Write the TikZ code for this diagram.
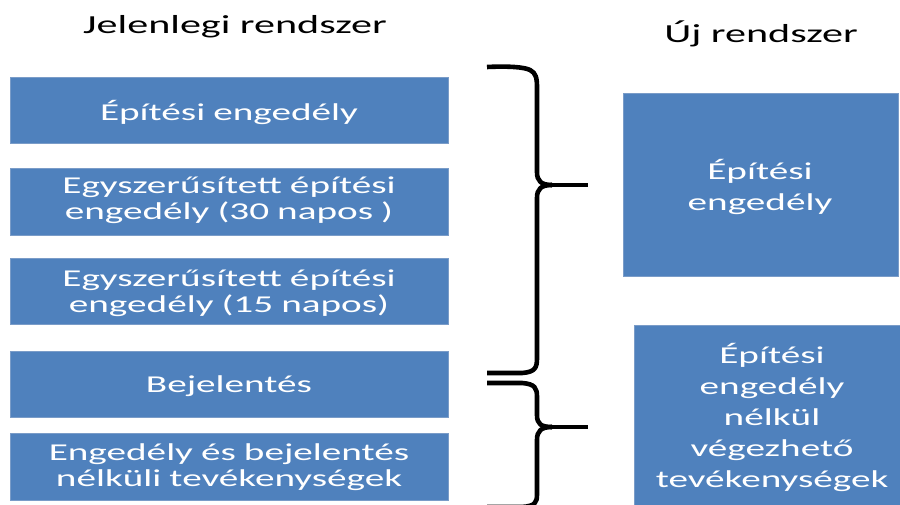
\documentclass[tikz,border=0pt]{standalone}
\usepackage{fontspec}
\setmainfont{Carlito}[FakeStretch=1.62]
\definecolor{boxblue}{HTML}{4F81BD}
\definecolor{boxedge}{HTML}{7A9CC8}
\begin{document}
\begin{tikzpicture}[x=1pt,y=-1pt,
  bluebox/.style={draw=boxedge,fill=boxblue,line width=0.8pt,anchor=north west,inner sep=0pt,outer sep=0pt},
  boxtext/.style={text=white,font=\fontsize{24.2}{26}\selectfont,align=center,anchor=base,inner sep=0pt,text width=#1},
  boxtext/.default=430pt,
  righttext/.style={text=white,font=\fontsize{24.2}{31}\selectfont,align=center,anchor=base,inner sep=0pt,text width=270pt},
  titletext/.style={text=black,font=\fontsize{26}{30}\selectfont,anchor=base,inner sep=0pt},
  brace/.style={draw=black,line width=4.6pt,line join=round,line cap=butt},
  bracetip/.style={draw=black,line width=3.4pt,line cap=butt}
]
\clip (0,0) rectangle (900,505);
\fill[white] (0,0) rectangle (900,505);

% titles
\node[titletext] (h1) at (235,34) {Jelenlegi rendszer};
\node[titletext] (h2) at (761,43) {Új rendszer};

% left boxes
\node[bluebox,minimum width=438pt,minimum height=66pt] (b1) at (10,77) {};
\node[bluebox,minimum width=438pt,minimum height=67pt] (b2) at (10,168) {};
\node[bluebox,minimum width=438pt,minimum height=66pt] (b3) at (10,258) {};
\node[bluebox,minimum width=438pt,minimum height=66pt] (b4) at (10,351) {};
\node[bluebox,minimum width=438pt,minimum height=67pt] (b5) at (10,433) {};

\node[boxtext] (t1) at (229,121) {Építési engedély};
\node[boxtext] (t2) at (229,194) {Egyszerűsített építési\\engedély (30 napos )};
\node[boxtext] (t3) at (229,287) {Egyszerűsített építési\\engedély (15 napos)};
\node[boxtext] (t4) at (229,392) {Bejelentés};
\node[boxtext] (t5) at (229,460) {Engedély és bejelentés\\nélküli tevékenységek};

% right boxes
\node[bluebox,minimum width=275pt,minimum height=183pt] (r1) at (623,93) {};
\node[bluebox,minimum width=276pt,minimum height=190pt] (r2) at (634,325) {};

\node[righttext] (rt1) at (760,180) {Építési\\engedély};
\node[righttext] (rt2) at (772,363) {Építési\\engedély\\nélkül\\végezhető\\tevékenységek};

% braces
\draw[brace] (487,67) .. controls (508,66) and (524,67) .. (530,70)
  .. controls (536,73) and (537,78) .. (537,88) -- (537,172)
  .. controls (537,181) and (541,185) .. (552,185);
\draw[brace] (552,185) .. controls (541,185) and (537,189) .. (537,198)
  -- (537,358) .. controls (537,368) and (535,372) .. (522,373) -- (487,373);
\draw[bracetip] (550,185) -- (588,185);

\draw[brace] (487,383) -- (522,383) .. controls (535,384) and (537,388) .. (537,397)
  -- (537,415) .. controls (537,424) and (541,427) .. (552,427);
\draw[brace] (552,427) .. controls (541,427) and (537,431) .. (537,440)
  -- (537,494) .. controls (537,503) and (535,506) .. (522,507) -- (487,507);
\draw[bracetip] (550,427) -- (588,427);
\end{tikzpicture}
\end{document}
